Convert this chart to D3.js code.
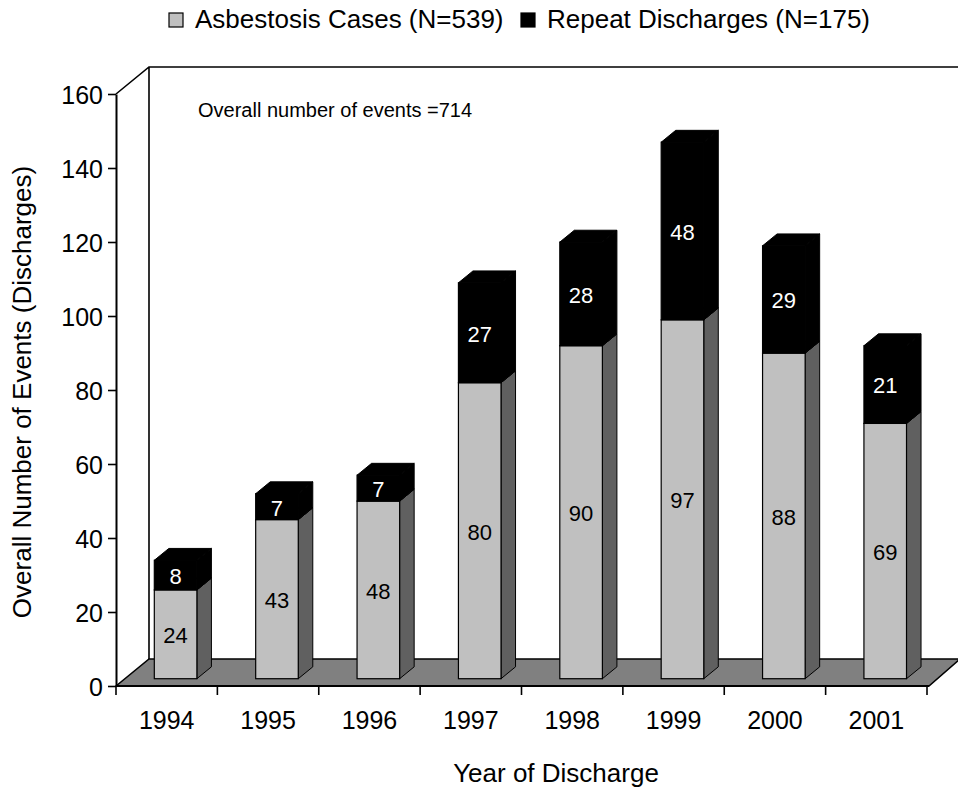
<!DOCTYPE html>
<html>
<head>
<meta charset="utf-8">
<script src="https://cdn.jsdelivr.net/npm/d3@7"></script>
<style>
  html, body { margin: 0; padding: 0; background: #fff; }
  svg { display: block; font-family: "Liberation Sans", Arial, sans-serif; }
</style>
</head>
<body>
<div id="chart"></div>
<script>
// ── Data ──────────────────────────────────────────────────────────────────────
const years    = ['1994', '1995', '1996', '1997', '1998', '1999', '2000', '2001'];
const cases    = [24, 43, 48, 80, 90, 97, 88, 69];
const repeats  = [8, 7, 7, 27, 28, 48, 29, 21];
const yTicks   = [0, 20, 40, 60, 80, 100, 120, 140, 160];

// ── Layout ────────────────────────────────────────────────────────────────────
const W = 958, H = 791;
const plotL = 116, plotR = 927, plotB = 686, plotT = 94;
const DX = 33, DY = -27;          // full depth of the floor / walls
const Z0 = 0.27, Z1 = 0.71;       // bar front / back depth fraction
const FONT = '"Liberation Sans", Arial, sans-serif';

const svg = d3.select('#chart').append('svg')
  .attr('width', W)
  .attr('height', H);

const x = d3.scaleBand()
  .domain(years)
  .range([plotL, plotR])
  .paddingInner(0.58)
  .paddingOuter(0.29);

const y = d3.scaleLinear()
  .domain([0, 160])
  .range([plotB, plotT]);

// ── Walls and floor ───────────────────────────────────────────────────────────
svg.append('polygon')
  .attr('points', [[plotL, plotB], [plotL + DX, plotB + DY], [W + 2, plotB + DY], [plotR + 2, plotB]].join(' '))
  .attr('fill', '#808080')
  .attr('stroke', '#000')
  .attr('stroke-width', 1.6);

svg.append('path')
  .attr('d', `M${plotL},${y(160)}L${plotL + DX},${y(160) + DY}L${W + 2},${y(160) + DY}`
           + `M${plotL + DX},${y(160) + DY}L${plotL + DX},${plotB + DY}`)
  .attr('fill', 'none')
  .attr('stroke', '#000')
  .attr('stroke-width', 1.6);

// ── Axes ──────────────────────────────────────────────────────────────────────
const yAxis = svg.append('g')
  .attr('transform', `translate(${plotL},0)`)
  .call(d3.axisLeft(y).tickValues(yTicks).tickSize(8).tickSizeOuter(0).tickPadding(5));
yAxis.attr('font-family', FONT);
yAxis.select('.domain').attr('stroke-width', 2);
yAxis.selectAll('.tick line').attr('stroke-width', 1.6);
yAxis.selectAll('text').attr('font-size', 25).attr('fill', '#000').attr('dy', '0.38em');

const xAxis = svg.append('g')
  .attr('transform', `translate(0,${plotB})`)
  .call(d3.axisBottom(x).tickSize(0).tickPadding(25));
xAxis.attr('font-family', FONT);
xAxis.select('.domain').remove();
xAxis.selectAll('text').attr('font-size', 25).attr('fill', '#000');

// tick marks at the category boundaries
const bounds = d3.range(years.length + 1).map(i => plotL + i * x.step());
svg.append('g').selectAll('line')
  .data(bounds)
  .enter().append('line')
  .attr('x1', d => d).attr('x2', d => d)
  .attr('y1', plotB).attr('y2', plotB + 9)
  .attr('stroke', '#000')
  .attr('stroke-width', 1.6);

svg.append('line')
  .attr('x1', plotL).attr('x2', plotR + 2)
  .attr('y1', plotB).attr('y2', plotB)
  .attr('stroke', '#000')
  .attr('stroke-width', 2);

// ── Bars ──────────────────────────────────────────────────────────────────────
const fx = Z0 * DX, fy = Z0 * DY;                  // front face shift
const sx = (Z1 - Z0) * DX, sy = (Z1 - Z0) * DY;    // side depth

function box(g, x0, w, v0, v1, front, side, topFill, stroke) {
  const xl = x0 + fx, xr = xl + w;
  const yb = y(v0) + fy, yt = y(v1) + fy;
  g.append('polygon')
    .attr('points', [[xr, yb], [xr + sx, yb + sy], [xr + sx, yt + sy], [xr, yt]].join(' '))
    .attr('fill', side).attr('stroke', stroke).attr('stroke-width', 1);
  g.append('polygon')
    .attr('points', [[xl, yt], [xl + sx, yt + sy], [xr + sx, yt + sy], [xr, yt]].join(' '))
    .attr('fill', topFill).attr('stroke', stroke).attr('stroke-width', 1);
  g.append('rect')
    .attr('x', xl).attr('y', yt)
    .attr('width', w).attr('height', yb - yt)
    .attr('fill', front).attr('stroke', stroke).attr('stroke-width', 1.2);
  return { cx: xl + w / 2, cy: (yt + yb) / 2 };
}

const bars = svg.append('g');
years.forEach((yr, i) => {
  const g = bars.append('g');
  const w = x.bandwidth();
  const a = box(g, x(yr), w, 0, cases[i], '#c0c0c0', '#606060', '#c0c0c0', '#000');
  const b = box(g, x(yr), w, cases[i], cases[i] + repeats[i], '#000', '#000', '#000', '#000');
  g.append('text')
    .attr('x', a.cx).attr('y', a.cy + 1)
    .attr('dy', '0.36em')
    .attr('text-anchor', 'middle')
    .attr('font-size', 22)
    .attr('fill', '#000')
    .text(cases[i]);
  g.append('text')
    .attr('x', b.cx).attr('y', b.cy + 1)
    .attr('dy', '0.36em')
    .attr('text-anchor', 'middle')
    .attr('font-size', 22)
    .attr('fill', '#fff')
    .text(repeats[i]);
});

// ── Annotations ───────────────────────────────────────────────────────────────
svg.append('text')
  .attr('x', 198).attr('y', 117)
  .attr('font-size', 20)
  .text('Overall number of events =714');

svg.append('text')
  .attr('transform', 'translate(31,392) rotate(-90)')
  .attr('text-anchor', 'middle')
  .attr('font-size', 26)
  .text('Overall Number of Events (Discharges)');

svg.append('text')
  .attr('x', 556).attr('y', 782)
  .attr('text-anchor', 'middle')
  .attr('font-size', 26)
  .text('Year of Discharge');

// ── Legend ────────────────────────────────────────────────────────────────────
const legend = [
  { label: 'Asbestosis Cases (N=539)', color: '#c0c0c0', x: 169 },
  { label: 'Repeat Discharges (N=175)', color: '#000', x: 521 },
];
const lg = svg.append('g');
legend.forEach(d => {
  lg.append('rect')
    .attr('x', d.x).attr('y', 13)
    .attr('width', 14).attr('height', 14)
    .attr('fill', d.color)
    .attr('stroke', '#000').attr('stroke-width', 1.2);
  lg.append('text')
    .attr('x', d.x + 26).attr('y', 28)
    .attr('font-size', 26)
    .text(d.label);
});
</script>
</body>
</html>
